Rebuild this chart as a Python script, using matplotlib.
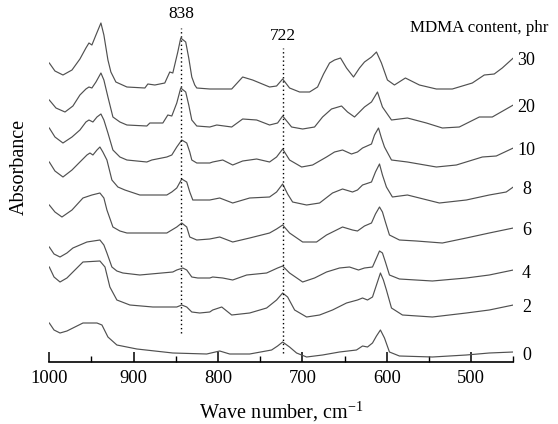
import matplotlib
matplotlib.use("Agg")
import matplotlib.pyplot as plt
from matplotlib.ticker import MultipleLocator

plt.rcParams['font.family'] = ['Liberation Serif', 'DejaVu Serif']
plt.rcParams['mathtext.fontset'] = 'custom'
plt.rcParams['mathtext.rm'] = 'Liberation Serif'

# ---- data: wavenumber (cm-1) and stacked absorbance (a.u.) per MDMA content ----
contents = ["30", "20", "10", "8", "6", "4", "2", "0"]

wn_30 = [1000, 993.3, 983.8, 973.1, 963.7, 956.6, 953, 949.5, 944.7, 938.8, 935.3, 930.5, 927, 921.1, 908,
         886.7, 883.2, 874.9, 863.1, 857.2, 853.6, 847.7, 844.2, 838.3, 834.7, 831.1, 827.6, 825.2, 809.8,
         783.8, 770.8, 759, 738.9, 730.6, 723.4, 715.2, 703.3, 691.5, 682, 674.9, 667.8, 661.9, 654.8, 647.7,
         639.4, 632.3, 626.4, 618.1, 612.2, 606.3, 599.2, 590.9, 577.9, 561.3, 541.2, 522.3, 498.6, 484.4,
         472.6, 463.1, 450]
abs_30 = [2.99, 2.91, 2.87, 2.92, 3.03, 3.14, 3.19, 3.17, 3.27, 3.39, 3.27, 3.02, 2.90, 2.80, 2.75,
          2.74, 2.78, 2.77, 2.79, 2.90, 2.89, 3.10, 3.24, 3.20, 3.04, 2.85, 2.77, 2.74, 2.73,
          2.73, 2.85, 2.82, 2.75, 2.76, 2.83, 2.74, 2.70, 2.70, 2.75, 2.88, 2.99, 3.02, 3.04, 2.94,
          2.85, 2.94, 3.00, 3.05, 3.10, 2.99, 2.82, 2.77, 2.84, 2.77, 2.73, 2.73, 2.79, 2.87,
          2.88, 2.94, 3.04]

wn_20 = [1000, 992.1, 981.4, 972, 963.7, 956.6, 953, 949.5, 944.7, 938.8, 935.3, 930.5, 924.6, 916.3, 908,
         884.4, 880.8, 865.4, 859.5, 854.8, 848.9, 844.2, 838.3, 834.7, 831.1, 825.2, 809.8, 801.5, 783.8,
         770.8, 754.2, 738.9, 729.4, 723.4, 712.8, 699.7, 685.6, 676.1, 665.5, 653.6, 646.5, 638.2, 626.4,
         618.1, 611, 605.1, 594.4, 575.5, 553, 534.1, 514, 490.3, 474.9, 450]
abs_20 = [2.62, 2.54, 2.50, 2.56, 2.67, 2.73, 2.75, 2.74, 2.80, 2.89, 2.82, 2.65, 2.45, 2.40, 2.37,
          2.36, 2.39, 2.39, 2.47, 2.46, 2.59, 2.74, 2.70, 2.57, 2.42, 2.36, 2.35, 2.37, 2.35,
          2.43, 2.42, 2.37, 2.39, 2.46, 2.35, 2.33, 2.35, 2.45, 2.53, 2.56, 2.50, 2.45, 2.55,
          2.60, 2.70, 2.55, 2.42, 2.44, 2.39, 2.34, 2.35, 2.45, 2.45, 2.57]

wn_10 = [1000, 993.3, 983.8, 973.1, 963.7, 956.6, 953, 948.3, 943.5, 938.8, 935.3, 930.5, 924.6, 916.3, 908,
         884.4, 878.5, 860.7, 854.8, 848.9, 843, 837.1, 833.5, 831.1, 825.2, 809.8, 806.3, 794.4, 782.6,
         770.8, 754.2, 738.9, 730.6, 723.4, 715.2, 700.9, 687.9, 671.4, 661.9, 652.4, 641.8, 634.7, 628.7,
         618.1, 614.5, 609.8, 606.3, 602.7, 594.4, 575.5, 541.2, 517.5, 486.7, 470.2, 450]
abs_10 = [2.34, 2.25, 2.19, 2.25, 2.32, 2.40, 2.42, 2.40, 2.45, 2.48, 2.42, 2.29, 2.12, 2.05, 2.02,
          2.00, 2.02, 2.05, 2.07, 2.15, 2.22, 2.19, 2.10, 2.02, 1.99, 1.99, 2.00, 2.02, 1.97,
          2.01, 2.03, 2.00, 2.05, 2.13, 2.02, 1.95, 1.97, 2.05, 2.10, 2.12, 2.08, 2.10, 2.14,
          2.18, 2.27, 2.34, 2.24, 2.15, 2.02, 2.00, 1.95, 1.97, 2.05, 2.06, 2.14]

wn_8 = [1000, 993.3, 983.8, 973.1, 963.7, 955.4, 951.8, 948.3, 943.5, 940, 936.5, 931.7, 925.8, 918.7, 910.4,
        892.7, 860.7, 854.8, 848.9, 843, 837.1, 833.5, 829.9, 809.8, 798, 782.6, 762.5, 738.9, 730.6,
        723.4, 717.5, 711.6, 695, 679.6, 664.3, 652.4, 640.6, 634.7, 628.7, 618.1, 613.4, 608.6, 605.1,
        600.4, 593.3, 575.5, 537.6, 505.7, 478.5, 458.4, 450]
abs_8 = [2.00, 1.91, 1.85, 1.92, 2.00, 2.07, 2.09, 2.07, 2.12, 2.15, 2.10, 2.02, 1.82, 1.75, 1.72,
         1.67, 1.67, 1.70, 1.74, 1.83, 1.80, 1.70, 1.62, 1.62, 1.64, 1.59, 1.64, 1.65, 1.70,
         1.78, 1.68, 1.60, 1.57, 1.59, 1.69, 1.73, 1.70, 1.72, 1.77, 1.80, 1.90, 1.98, 1.87,
         1.75, 1.65, 1.67, 1.59, 1.62, 1.67, 1.70, 1.75]

wn_6 = [1000, 993.3, 985, 973.1, 960.1, 949.5, 940, 935.3, 931.7, 924.6, 916.3, 908, 860.7, 854.8, 848.9,
        843, 837.1, 833.5, 825.2, 809.8, 798, 782.6, 762.5, 738.9, 730.6, 723.4, 715.2, 699.7, 683.2,
        671.4, 652.4, 640.6, 634.7, 626.4, 618.1, 613.4, 608.6, 605.1, 601.6, 596.8, 585, 564.9, 534.1,
        505.7, 478.5, 450]
abs_6 = [1.57, 1.50, 1.45, 1.52, 1.64, 1.67, 1.69, 1.64, 1.52, 1.35, 1.31, 1.29, 1.29, 1.32, 1.35,
         1.39, 1.35, 1.25, 1.22, 1.23, 1.25, 1.20, 1.24, 1.29, 1.33, 1.37, 1.29, 1.20, 1.20,
         1.27, 1.35, 1.32, 1.31, 1.36, 1.39, 1.48, 1.55, 1.50, 1.40, 1.27, 1.22, 1.21, 1.19,
         1.24, 1.29, 1.34]

wn_4 = [1000, 994.4, 987.3, 979.1, 972, 955.4, 940, 935.3, 931.7, 925.8, 919.9, 912.8, 892.7, 853.6, 848.9,
        841.8, 837.1, 831.1, 824, 809.8, 806.3, 794.4, 782.6, 766, 742.4, 729.4, 723.4, 715.2, 699.7,
        685.6, 671.4, 656, 644.2, 633.5, 626.4, 616.9, 612.2, 608.6, 605.1, 601.6, 596.8, 585, 545.9,
        505.7, 478.5, 450]
abs_4 = [1.15, 1.08, 1.05, 1.09, 1.14, 1.20, 1.22, 1.17, 1.09, 0.95, 0.91, 0.89, 0.87, 0.90, 0.92,
         0.94, 0.92, 0.85, 0.84, 0.84, 0.85, 0.84, 0.82, 0.87, 0.89, 0.94, 0.96, 0.89, 0.80,
         0.84, 0.90, 0.94, 0.95, 0.92, 0.94, 0.95, 1.04, 1.11, 1.09, 1.00, 0.87, 0.83, 0.81,
         0.84, 0.87, 0.92]

wn_2 = [1000, 994.4, 987.3, 979.1, 972, 960.1, 940, 934, 928.2, 919.9, 904.5, 877.3, 848.9, 843, 837.1,
        831.1, 821.7, 809.8, 806.3, 795.6, 783.8, 762.5, 742.4, 730.6, 723.4, 717.5, 709.2, 695, 679.6,
        664.3, 647.7, 634.7, 628.7, 622.8, 616.9, 612.2, 607.5, 604, 600.4, 594.4, 581.4, 545.9, 505.7,
        478.5, 450]
abs_2 = [0.95, 0.85, 0.80, 0.84, 0.90, 1.00, 1.01, 0.95, 0.75, 0.62, 0.57, 0.55, 0.55, 0.57, 0.55,
         0.50, 0.49, 0.50, 0.52, 0.55, 0.47, 0.49, 0.54, 0.62, 0.69, 0.65, 0.52, 0.45, 0.47,
         0.52, 0.59, 0.62, 0.64, 0.62, 0.65, 0.77, 0.89, 0.82, 0.72, 0.54, 0.47, 0.45, 0.49,
         0.52, 0.57]

wn_0 = [1000, 994.4, 987.3, 979.1, 972, 960.1, 943.5, 937.6, 930.5, 919.9, 896.2, 853.6, 813.4, 798, 786.2,
        762.5, 736.5, 729.4, 723.4, 715.2, 706.9, 695, 676.1, 656, 635.9, 628.7, 622.8, 616.9, 612.2,
        607.5, 602.7, 596.8, 585, 545.9, 505.7, 478.5, 450]
abs_0 = [0.39, 0.32, 0.29, 0.31, 0.34, 0.39, 0.39, 0.37, 0.25, 0.17, 0.13, 0.09, 0.08, 0.11, 0.08,
         0.08, 0.12, 0.16, 0.20, 0.15, 0.09, 0.05, 0.07, 0.10, 0.12, 0.16, 0.15, 0.19, 0.26,
         0.32, 0.24, 0.10, 0.06, 0.05, 0.07, 0.09, 0.10]

spectra = [(wn_30, abs_30), (wn_20, abs_20), (wn_10, abs_10), (wn_8, abs_8),
           (wn_6, abs_6), (wn_4, abs_4), (wn_2, abs_2), (wn_0, abs_0)]

marker_bands = ["838", "722"]
marker_pos = [843.5, 723.0]

# ---- figure ----
fig = plt.figure(figsize=(5.58, 4.24), dpi=100)
ax = fig.add_axes([49.3 / 558, 62 / 424, 464 / 558, 352 / 424])

for (wn, ab), lab in zip(spectra, contents):
    ax.plot(wn, ab, color='#505050', lw=0.85, solid_joinstyle='round', antialiased=True)
    ax.text(434.5, ab[-1] - 0.03, lab, ha='center', va='center', fontsize=13, clip_on=False)

# dotted marker lines
ax.plot([marker_pos[0]] * 2, [0.29, 3.34], ls=(0, (1, 2)), color='black', lw=1.0)
ax.plot([marker_pos[1]] * 2, [0.09, 3.14], ls=(0, (1, 2)), color='black', lw=1.0)
ax.text(marker_pos[0], 3.40, marker_bands[0], ha='center', va='bottom', fontsize=12.5)
ax.text(marker_pos[1], 3.18, marker_bands[1], ha='center', va='bottom', fontsize=12.5)

ax.set_xlim(1000, 450)
ax.set_ylim(0, 3.52)
for s in ['left', 'right', 'top']:
    ax.spines[s].set_visible(False)
ax.spines['bottom'].set_linewidth(1.2)
ax.set_yticks([])
ax.xaxis.set_major_locator(MultipleLocator(100))
ax.xaxis.set_minor_locator(MultipleLocator(50))
ax.tick_params(axis='x', which='major', direction='in', length=7, width=1.1, labelsize=13.3, pad=6)
ax.tick_params(axis='x', which='minor', direction='in', length=4, width=1.0)

fig.text(410 / 558, 1 - 28 / 424, "MDMA content, phr", ha='left', va='center', fontsize=12.2)
fig.text(281 / 558, 1 - 412 / 424, "Wave number, cm$^{\\mathregular{-1}}$", ha='center', va='center',
         fontsize=14.5)
fig.text(19 / 558, 1 - 167 / 424, "Absorbance", ha='center', va='center', rotation=90, fontsize=14.5)

fig.savefig("out.png", dpi=100)
